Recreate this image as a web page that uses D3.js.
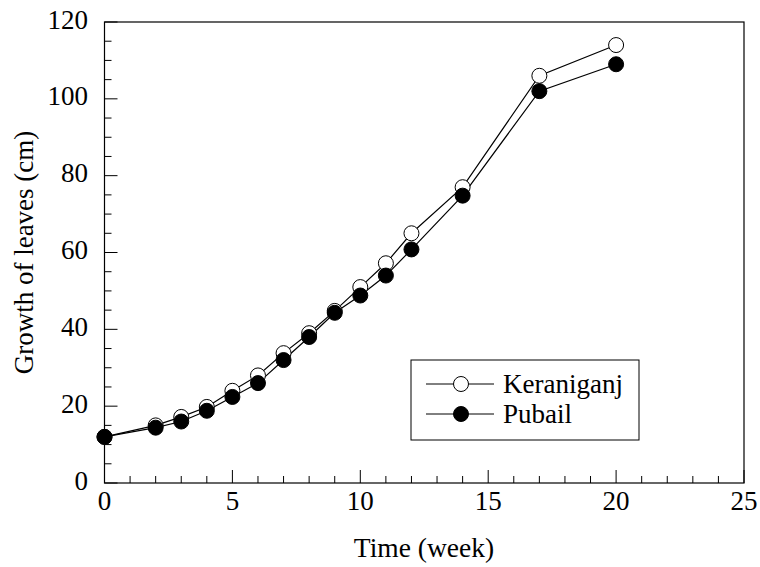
<!DOCTYPE html>
<html><head><meta charset="utf-8">
<script src="https://cdn.jsdelivr.net/npm/d3@7"></script>
<style>body{margin:0;background:#fff}svg{display:block}</style>
</head><body><svg id="c" width="760" height="567" font-family="'Liberation Serif', 'Times New Roman', Times, 'DejaVu Serif', serif"></svg>
<script>
const weeks = [0, 2, 3, 4, 5, 6, 7, 8, 9, 10, 11, 12, 14, 17, 20];
const keraniganj = [12, 15, 17.2, 19.8, 24, 28, 33.8, 39, 44.8, 51, 57.2, 65, 77, 106, 114];
const pubail = [12, 14.4, 16, 18.8, 22.4, 26, 32, 38, 44.3, 48.8, 54, 60.8, 74.8, 102, 109];
const seriesNames = ["Keraniganj", "Pubail"];
const xTicks = [0, 5, 10, 15, 20, 25];
const yTicks = [0, 20, 40, 60, 80, 100, 120];

const FONT = "'Liberation Serif', 'Times New Roman', Times, 'DejaVu Serif', serif";
const svg = d3.select("#c");
const L = 104.5, R = 744, T = 22, B = 483;
const x = d3.scaleLinear().domain([0, 25]).range([L, R]);
const y = d3.scaleLinear().domain([0, 120]).range([B, T]);

svg.append("rect").attr("x", L).attr("y", T).attr("width", R - L).attr("height", B - T)
  .attr("fill", "none").attr("stroke", "#000").attr("stroke-width", 1.2);

const xMinor = d3.range(0, 26, 1);
svg.append("g").selectAll("line").data(xMinor).join("line")
  .attr("x1", d => x(d)).attr("x2", d => x(d))
  .attr("y1", B).attr("y2", d => B - (d % 5 === 0 ? 13 : 7))
  .attr("stroke", "#000").attr("stroke-width", 1);
svg.append("g").selectAll("text").data(xTicks).join("text")
  .attr("x", d => x(d)).attr("y", 510).attr("text-anchor", "middle")
  .style("font-family", FONT).attr("font-size", 27).text(d => d);

const yMinor = d3.range(0, 121, 5);
svg.append("g").selectAll("line").data(yMinor).join("line")
  .attr("x1", L).attr("x2", d => L + (d % 20 === 0 ? 13 : 7))
  .attr("y1", d => y(d)).attr("y2", d => y(d))
  .attr("stroke", "#000").attr("stroke-width", 1);
svg.append("g").selectAll("text").data(yTicks).join("text")
  .attr("x", 88).attr("y", d => y(d) + 6.5).attr("text-anchor", "end")
  .style("font-family", FONT).attr("font-size", 27).text(d => d);

svg.append("text").attr("x", 424).attr("y", 557).attr("text-anchor", "middle")
  .style("font-family", FONT).attr("font-size", 27.5).text("Time (week)");
svg.append("text").attr("transform", `translate(33,${(T + B) / 2}) rotate(-90)`)
  .attr("text-anchor", "middle").style("font-family", FONT).attr("font-size", 27).text("Growth of leaves (cm)");

const line = d3.line().x(d => x(d[0])).y(d => y(d[1]));
const data = [keraniganj, pubail].map(vals => weeks.map((w, i) => [w, vals[i]]));
const fills = ["#fff", "#000"];

data.forEach(pts => {
  svg.append("path").attr("d", line(pts)).attr("fill", "none").attr("stroke", "#000").attr("stroke-width", 1.2);
});
data.forEach((pts, k) => {
  svg.append("g").selectAll("circle").data(pts).join("circle")
    .attr("cx", d => x(d[0])).attr("cy", d => y(d[1])).attr("r", 7.5)
    .attr("fill", fills[k]).attr("stroke", "#000").attr("stroke-width", 1);
});

const lg = svg.append("g");
lg.append("rect").attr("x", 411).attr("y", 360).attr("width", 228).attr("height", 80)
  .attr("fill", "#fff").attr("stroke", "#000").attr("stroke-width", 1);
seriesNames.forEach((n, i) => {
  const yy = 384 + i * 30;
  lg.append("line").attr("x1", 426).attr("x2", 494).attr("y1", yy).attr("y2", yy).attr("stroke", "#000").attr("stroke-width", 1);
  lg.append("circle").attr("cx", 461).attr("cy", yy).attr("r", 7.5).attr("fill", fills[i]).attr("stroke", "#000");
  lg.append("text").attr("x", 503).attr("y", yy + 9).style("font-family", FONT).attr("font-size", 27).text(n);
});
</script></body></html>
